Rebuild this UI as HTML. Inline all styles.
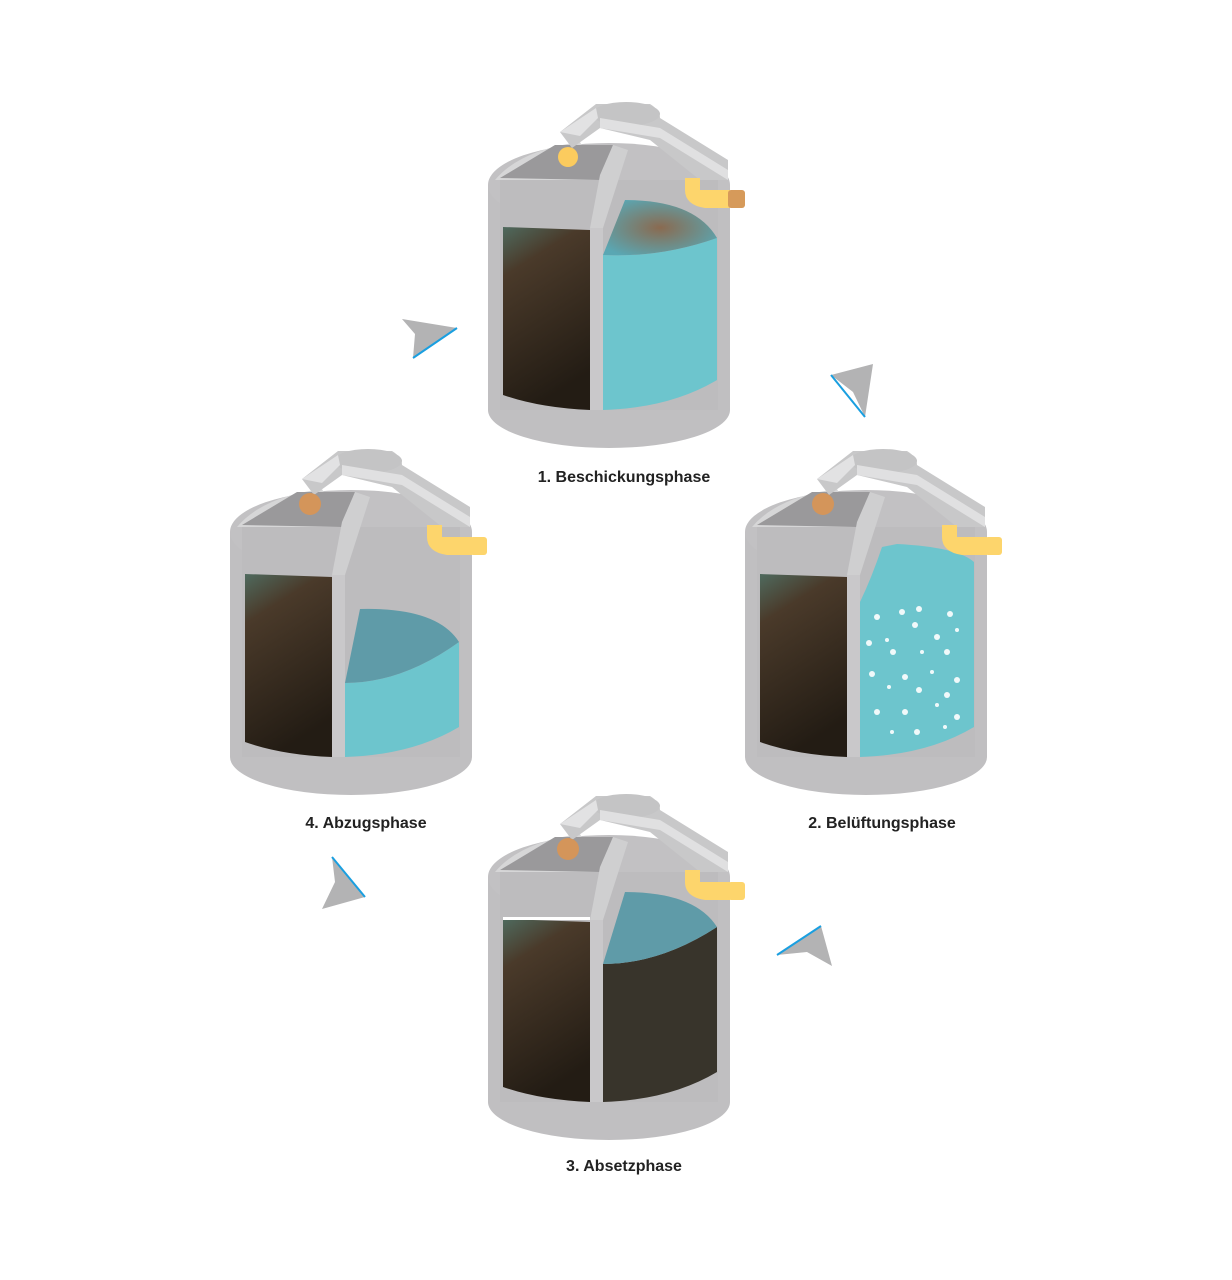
<!DOCTYPE html>
<html><head><meta charset="utf-8">
<style>
html,body{margin:0;padding:0;background:#fff;}
svg{display:block;}
text{font-family:"Liberation Sans",sans-serif;font-size:16px;font-weight:bold;fill:#222;text-anchor:middle;}
</style></head><body>
<svg width="1232" height="1280" viewBox="0 0 1232 1280" xmlns="http://www.w3.org/2000/svg">
<defs>
<linearGradient id="sl" x1="0" y1="0" x2="0.3" y2="1">
<stop offset="0" stop-color="#4f6a5e"/><stop offset="0.25" stop-color="#4a3a2a"/><stop offset="1" stop-color="#231c14"/>
</linearGradient>
<radialGradient id="wt1" cx="0.5" cy="0.5" r="0.6"><stop offset="0" stop-color="#8a6a50"/><stop offset="1" stop-color="#5aa7b3"/></radialGradient>
<g id="base">
  <ellipse cx="609" cy="410" rx="121" ry="38" fill="#c0bfc1"/>
  <rect x="488" y="185" width="242" height="225" fill="#c0bfc1"/>
  <ellipse cx="609" cy="185" rx="121" ry="42" fill="#c2c1c3"/>
  <rect x="500" y="180" width="218" height="230" fill="#bdbcbe"/>
  <path d="M495,180 Q520,150 580,142 L600,180 Z" fill="#d6d6d7"/>
  <path d="M500,178 L555,145 L613,145 L600,180 Z" fill="#9a999b"/>
  <path d="M590,228 L600,175 L613,145 L628,150 L603,228 Z" fill="#cfcfd0"/>
  <path d="M560,132 L596,104 L650,104 Q660,110 660,118 L728,160 L728,180 L700,180 L650,140 L600,128 L572,148 Z" fill="#c8c8c9"/>
  <ellipse cx="626" cy="114" rx="34" ry="12" fill="#c4c4c5"/>
  <path d="M560,132 L596,108 L598,118 L580,136 Z" fill="#e2e2e3"/>
  <path d="M600,118 L660,128 L728,170 L728,180 L660,138 L600,128 Z" fill="#e0e0e1"/>
  <path d="M503,227 L590,230 L590,410 Q540,408 503,395 Z" fill="url(#sl)"/>
  <rect x="590" y="228" width="13" height="182" fill="#c9c8ca"/>
</g>
<g id="pipe">
  <path d="M685,178 L700,178 L700,190 L730,190 L730,208 L705,208 Q685,205 685,190 Z" fill="#fdd56c"/>
</g>
</defs>

<g>
  <use href="#base"/>
  <path d="M603,255 L603,410 Q670,408 717,380 L717,238 Q660,258 603,255 Z" fill="#6dc5cd"/>
  <path d="M603,255 L625,200 Q695,200 717,238 Q660,258 603,255 Z" fill="url(#wt1)"/>
  <circle cx="568" cy="157" r="10" fill="#fbcb5e"/>
  <use href="#pipe"/>
  <rect x="728" y="190" width="17" height="18" rx="3" fill="#d69a5a"/>
</g>
<text x="624" y="482">1. Beschickungsphase</text>

<g transform="translate(257,347)">
  <use href="#base"/>
  <path d="M603,255 L603,410 Q670,408 717,380 L717,215 Q700,200 640,197 L625,200 Q615,230 603,255 Z" fill="#6dc5cd"/>
  <g fill="#ffffff" opacity="0.9">
    <circle cx="620" cy="270" r="3"/><circle cx="645" cy="265" r="3"/><circle cx="662" cy="262" r="3"/><circle cx="693" cy="267" r="3"/>
    <circle cx="630" cy="293" r="2"/><circle cx="658" cy="278" r="3"/><circle cx="680" cy="290" r="3"/><circle cx="700" cy="283" r="2"/>
    <circle cx="612" cy="296" r="3"/><circle cx="636" cy="305" r="3"/><circle cx="665" cy="305" r="2"/><circle cx="690" cy="305" r="3"/>
    <circle cx="615" cy="327" r="3"/><circle cx="648" cy="330" r="3"/><circle cx="675" cy="325" r="2"/><circle cx="700" cy="333" r="3"/>
    <circle cx="632" cy="340" r="2"/><circle cx="662" cy="343" r="3"/><circle cx="690" cy="348" r="3"/><circle cx="620" cy="365" r="3"/>
    <circle cx="648" cy="365" r="3"/><circle cx="680" cy="358" r="2"/><circle cx="700" cy="370" r="3"/><circle cx="635" cy="385" r="2"/>
    <circle cx="660" cy="385" r="3"/><circle cx="688" cy="380" r="2"/>
  </g>
  <circle cx="566" cy="157" r="11" fill="#d4955a"/>
  <use href="#pipe"/>
  <rect x="728" y="190" width="17" height="18" rx="3" fill="#fdd56c"/>
</g>
<text x="882" y="828">2. Belüftungsphase</text>

<g transform="translate(0,692)">
  <use href="#base"/>
  <rect x="503" y="225" width="87" height="3" fill="#fff"/>
  <path d="M603,272 L603,410 Q670,408 717,380 L717,235 Q660,272 603,272 Z" fill="#38342b"/>
  <path d="M603,272 L625,200 Q695,200 717,235 Q660,272 603,272 Z" fill="#5f9ba8"/>
  <circle cx="568" cy="157" r="11" fill="#d4955a"/>
  <use href="#pipe"/>
  <rect x="728" y="190" width="17" height="18" rx="3" fill="#fdd56c"/>
</g>
<text x="624" y="1171">3. Absetzphase</text>

<g transform="translate(-258,347)">
  <use href="#base"/>
  <path d="M603,336 L603,410 Q670,408 717,380 L717,295 Q660,336 603,336 Z" fill="#6dc5cd"/>
  <path d="M603,336 L618,262 Q695,260 717,295 Q660,336 603,336 Z" fill="#5f9ba8"/>
  <circle cx="568" cy="157" r="11" fill="#d4955a"/>
  <use href="#pipe"/>
  <rect x="728" y="190" width="17" height="18" rx="3" fill="#fdd56c"/>
</g>
<text x="366" y="828">4. Abzugsphase</text>

<polygon points="402,319 457,328 413,358 415,334" fill="#b3b3b4"/>
<line x1="457" y1="328" x2="413" y2="358" stroke="#1a9fe0" stroke-width="2"/>
<polygon points="831,375 873,364 865,417 853,392" fill="#b3b3b4"/>
<line x1="831" y1="375" x2="865" y2="417" stroke="#1a9fe0" stroke-width="2"/>
<polygon points="777,955 821,926 832,966 807,952" fill="#b3b3b4"/>
<line x1="777" y1="955" x2="821" y2="926" stroke="#1a9fe0" stroke-width="2"/>
<polygon points="332,857 365,897 322,909 335,882" fill="#b3b3b4"/>
<line x1="332" y1="857" x2="365" y2="897" stroke="#1a9fe0" stroke-width="2"/>
</svg>
</body></html>
